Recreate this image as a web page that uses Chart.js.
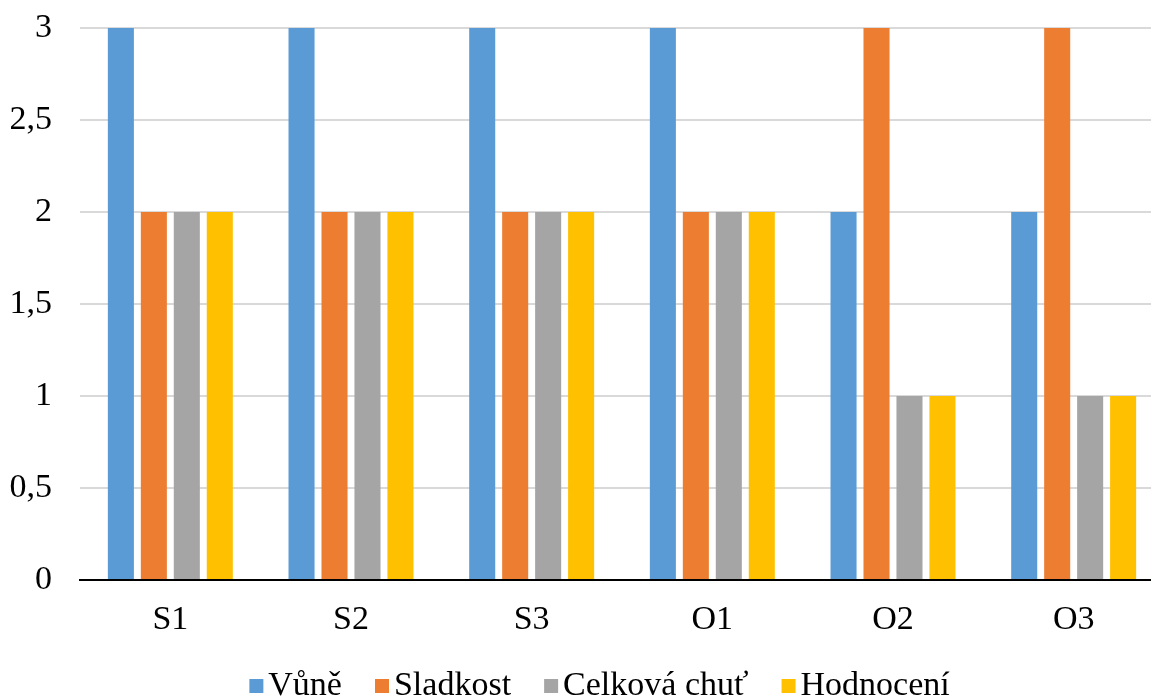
<!DOCTYPE html>
<html lang="cs">
<head>
<meta charset="utf-8">
<title>Hodnocení vzorků</title>
<script src="https://cdn.jsdelivr.net/npm/chart.js@4.4.1/dist/chart.umd.min.js"></script>
<style>
  html, body { margin: 0; padding: 0; background: #ffffff; overflow: hidden; }
  #wrap { position: absolute; left: 0; top: 0; width: 1199px; height: 698px; }
</style>
</head>
<body>
<div id="wrap"><canvas id="chart" width="1199" height="698"></canvas></div>
<script>
// Vzorky
const categories = ['S1', 'S2', 'S3', 'O1', 'O2', 'O3'];

// Hodnocené vlastnosti
const vune        = [3, 3, 3, 3, 2, 2];
const sladkost    = [2, 2, 2, 2, 3, 3];
const celkovaChut = [2, 2, 2, 2, 1, 1];
const hodnoceni   = [2, 2, 2, 2, 1, 1];

// Popisky osy Y (desetinná čárka)
const yTickValues = [0, 0.5, 1, 1.5, 2, 2.5, 3];
const yTickLabels = ['0', '0,5', '1', '1,5', '2', '2,5', '3'];

const seriesNames = ['Vůně', 'Sladkost', 'Celková chuť', 'Hodnocení'];
const seriesData = [vune, sladkost, celkovaChut, hodnoceni];
const seriesColors = ['#5B9BD5', '#ED7D31', '#A5A5A5', '#FFC000'];

const serif = "'Liberation Serif', 'Times New Roman', Times, serif";
const fontSize = 34;
Chart.defaults.font.family = serif;
Chart.defaults.font.size = fontSize;
Chart.defaults.color = '#000000';

// Legend marker: 14px square placed close to its label text
function legendMarker(color) {
  const c = document.createElement('canvas');
  c.width = 40;
  c.height = 14;
  const g = c.getContext('2d');
  g.fillStyle = color;
  g.fillRect(19, 0, 14, 14);
  return c;
}

new Chart(document.getElementById('chart'), {
  type: 'bar',
  data: {
    labels: categories,
    datasets: seriesNames.map((name, i) => ({
      label: name,
      data: seriesData[i],
      backgroundColor: seriesColors[i],
      borderWidth: 0,
      categoryPercentage: 0.73,
      barPercentage: 0.79
    }))
  },
  options: {
    responsive: false,
    animation: false,
    devicePixelRatio: 1,
    layout: { padding: { left: 0, right: 0, top: 28, bottom: -15 } },
    plugins: {
      legend: {
        position: 'bottom',
        labels: {
          usePointStyle: true,
          pointStyleWidth: 2,
          boxHeight: 14,
          padding: 33,
          font: { family: serif, size: fontSize },
          color: '#000000',
          generateLabels: (chart) =>
            Chart.defaults.plugins.legend.labels.generateLabels(chart).map((item, i) => ({
              ...item,
              pointStyle: legendMarker(seriesColors[i])
            }))
        }
      },
      tooltip: { enabled: false }
    },
    scales: {
      x: {
        grid: { display: false, drawTicks: false },
        border: { display: true, color: '#000000', width: 2 },
        ticks: { padding: 20, font: { family: serif, size: fontSize }, color: '#000000' },
        afterFit: (scale) => { scale.height = 56; }
      },
      y: {
        min: 0,
        max: 3,
        grid: { color: '#D9D9D9', lineWidth: 2, drawTicks: false },
        border: { display: false },
        afterBuildTicks: (scale) => { scale.ticks = yTickValues.map(v => ({ value: v })); },
        ticks: {
          padding: 28,
          font: { family: serif, size: fontSize },
          color: '#000000',
          callback: (value) => {
            const idx = yTickValues.indexOf(value);
            return idx >= 0 ? yTickLabels[idx] : '';
          }
        },
        afterFit: (scale) => {
          scale.width = 80;
          scale.paddingTop = 0;
          scale.paddingBottom = 0;
        }
      },
      // empty right-hand margin so the plot ends at the page edge
      yRight: {
        position: 'right',
        min: 0,
        max: 3,
        grid: { display: false, drawTicks: false },
        border: { display: false },
        ticks: { display: false },
        afterFit: (scale) => { scale.width = 35; }
      }
    }
  }
});
</script>
</body>
</html>
